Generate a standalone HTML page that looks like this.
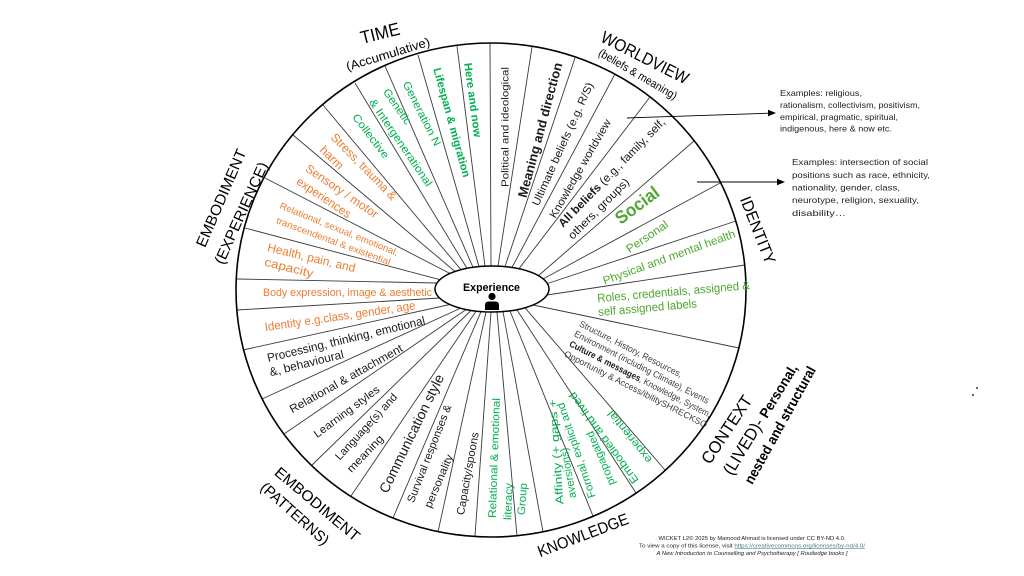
<!DOCTYPE html>
<html>
<head>
<meta charset="utf-8">
<style>
html,body{margin:0;padding:0;background:#fff;}
body{width:1024px;height:576px;overflow:hidden;}
svg{display:block;font-family:"Liberation Sans",sans-serif;}
</style>
</head>
<body>
<svg width="1024" height="576" viewBox="0 0 1024 576" xmlns="http://www.w3.org/2000/svg">
<rect width="1024" height="576" fill="#fff"/>

<!-- spokes -->
<g stroke="#3a3a3a" stroke-width="0.9" fill="none">
<line x1="491" y1="266" x2="490" y2="43"/>
<line x1="498" y1="266.1" x2="532" y2="47"/>
<line x1="505" y1="266.6" x2="575" y2="58"/>
<line x1="512" y1="267.4" x2="615" y2="74"/>
<line x1="519" y1="268.7" x2="650" y2="97"/>
<line x1="538" y1="276" x2="694" y2="141"/>
<line x1="543" y1="279" x2="720" y2="183"/>
<line x1="546" y1="284" x2="736" y2="221"/>
<line x1="547" y1="295" x2="745" y2="265"/>
<line x1="533" y1="305" x2="739" y2="348"/>
<line x1="525" y1="307.8" x2="665" y2="470"/>
<line x1="517" y1="309.9" x2="636" y2="493"/>
<line x1="510" y1="311" x2="593" y2="516"/>
<line x1="503" y1="311.6" x2="543" y2="532"/>
<line x1="497" y1="311.9" x2="517" y2="536"/>
<line x1="491" y1="312" x2="475" y2="536"/>
<line x1="486" y1="311.9" x2="438" y2="532"/>
<line x1="481" y1="311.6" x2="393" y2="518"/>
<line x1="476" y1="311.2" x2="351" y2="496"/>
<line x1="471" y1="310.5" x2="312" y2="465"/>
<line x1="466" y1="309.6" x2="284" y2="434"/>
<line x1="461" y1="308" x2="262" y2="399"/>
<line x1="450" y1="304.5" x2="243" y2="350"/>
<line x1="440" y1="298" x2="237" y2="310"/>
<line x1="437" y1="283" x2="237" y2="279"/>
<line x1="440" y1="279.7" x2="245" y2="228"/>
<line x1="450" y1="273.5" x2="265" y2="178"/>
<line x1="455" y1="271.5" x2="293" y2="135"/>
<line x1="461" y1="269.7" x2="323" y2="105"/>
<line x1="467" y1="268.4" x2="355" y2="83"/>
<line x1="473" y1="267.3" x2="385" y2="66"/>
<line x1="479" y1="266.6" x2="418" y2="55"/>
<line x1="485" y1="266.2" x2="457" y2="46"/>
</g>

<!-- outer ring -->
<ellipse cx="491" cy="290" rx="255" ry="247" fill="none" stroke="#000" stroke-width="1.6"/>

<!-- center -->
<ellipse cx="492" cy="289" rx="57" ry="23" fill="#fff" stroke="#000" stroke-width="1.5"/>
<text transform="translate(491.5,287)" text-anchor="middle" dy=".35em" font-size="11" font-weight="bold" textLength="57" lengthAdjust="spacingAndGlyphs" fill="#000">Experience</text>
<circle cx="492" cy="296.5" r="3.6" fill="#000"/>
<path d="M485,310 L485,305 Q485,301.5 489,301.5 L495,301.5 Q499,301.5 499,305 L499,310 Z" fill="#000"/>

<!-- arrows -->
<g stroke="#000" stroke-width="0.9">
<line x1="627" y1="118" x2="769" y2="113.2"/>
<line x1="697" y1="182" x2="778" y2="182"/>
</g>
<polygon points="776,113 768,109.8 768,116.4" fill="#000"/>
<polygon points="785,182 777,178.8 777,185.2" fill="#000"/>

<g text-anchor="middle" lengthAdjust="spacingAndGlyphs">

<!-- TIME sector -->
<g fill="#00b050" font-size="11">
<text transform="translate(473,100) rotate(82.3)" dy=".35em" font-weight="bold" textLength="75" lengthAdjust="spacingAndGlyphs">Here and now</text>
<text transform="translate(452,122.5) rotate(74.6)" dy=".35em" font-weight="bold" textLength="113" lengthAdjust="spacingAndGlyphs">Lifespan &amp; migration</text>
<text transform="translate(422,113.5) rotate(63)" dy=".35em" textLength="71" lengthAdjust="spacingAndGlyphs">Generation N</text>
<text transform="translate(397.5,106.5) rotate(55)" dy=".35em" textLength="41" lengthAdjust="spacingAndGlyphs">Genetic</text>
<text transform="translate(401,142.5) rotate(55.7)" dy=".35em" textLength="103" lengthAdjust="spacingAndGlyphs">&amp; Intergenerational</text>
<text transform="translate(371,136) rotate(52.7)" dy=".35em" textLength="53" lengthAdjust="spacingAndGlyphs">Collective</text>
</g>

<!-- EMBODIMENT (EXPERIENCE) sector -->
<g fill="#ed7d31" font-size="12">
<text transform="translate(364,166.5) rotate(45.5)" dy=".35em" textLength="88" lengthAdjust="spacingAndGlyphs">Stress, trauma &amp;</text>
<text transform="translate(332,157.5) rotate(45)" dy=".35em" textLength="28" lengthAdjust="spacingAndGlyphs">harm</text>
<text transform="translate(342,191) rotate(34.4)" dy=".35em" textLength="85" lengthAdjust="spacingAndGlyphs">Sensory / motor</text>
<text transform="translate(324,197.5) rotate(34)" dy=".35em" textLength="63" lengthAdjust="spacingAndGlyphs">experiences</text>
<text transform="translate(339,229) rotate(22.1)" dy=".35em" font-size="9.3" textLength="127" lengthAdjust="spacingAndGlyphs">Relational, sexual, emotional,</text>
<text transform="translate(333.5,241) rotate(20.4)" dy=".35em" font-size="9.3" textLength="121" lengthAdjust="spacingAndGlyphs">transcendental &amp; existential</text>
<text transform="translate(311.5,257.5) rotate(13.6)" dy=".35em" textLength="90" lengthAdjust="spacingAndGlyphs">Health, pain, and</text>
<text transform="translate(289,267.5) rotate(14)" dy=".35em" textLength="50" lengthAdjust="spacingAndGlyphs">capacity</text>
<text transform="translate(347.5,292) rotate(0)" dy=".35em" font-size="11" textLength="169" lengthAdjust="spacingAndGlyphs">Body expression, image &amp; aesthetic</text>
<text transform="translate(340,316) rotate(-8.3)" dy=".35em" textLength="152" lengthAdjust="spacingAndGlyphs">Identity e.g.class, gender, age</text>
</g>

<!-- EMBODIMENT (PATTERNS) sector -->
<g fill="#1a1a1a" font-size="11">
<text transform="translate(346,339) rotate(-13.5)" dy=".35em" font-size="12" textLength="162" lengthAdjust="spacingAndGlyphs">Processing, thinking, emotional</text>
<text transform="translate(306.5,363) rotate(-14)" dy=".35em" font-size="12" textLength="76" lengthAdjust="spacingAndGlyphs">&amp;, behavioural</text>
<text transform="translate(346,378.5) rotate(-29.4)" dy=".35em" font-size="11.5" textLength="128" lengthAdjust="spacingAndGlyphs">Relational &amp; attachment</text>
<text transform="translate(346.5,411.5) rotate(-36.7)" dy=".35em" textLength="79" lengthAdjust="spacingAndGlyphs">Learning styles</text>
<text transform="translate(366,426.5) rotate(-47.4)" dy=".35em" textLength="86" lengthAdjust="spacingAndGlyphs">Language(s) and</text>
<text transform="translate(365,453.5) rotate(-46)" dy=".35em" textLength="47" lengthAdjust="spacingAndGlyphs">meaning</text>
<text transform="translate(411.5,433.5) rotate(-64)" dy=".35em" font-size="14" textLength="130" lengthAdjust="spacingAndGlyphs">Communication style</text>
<text transform="translate(429,453.5) rotate(-68.6)" dy=".35em" textLength="104" lengthAdjust="spacingAndGlyphs">Survival responses &amp;</text>
<text transform="translate(438.5,481) rotate(-67)" dy=".35em" textLength="57" lengthAdjust="spacingAndGlyphs">personality</text>
<text transform="translate(467.5,473.5) rotate(-79.8)" dy=".35em" textLength="84" lengthAdjust="spacingAndGlyphs">Capacity/spoons</text>
</g>

<!-- KNOWLEDGE sector -->
<g fill="#00b050" font-size="11">
<text transform="translate(494,458) rotate(-88)" dy=".35em" textLength="120" lengthAdjust="spacingAndGlyphs">Relational &amp;  emotional</text>
<text transform="translate(508,501.5) rotate(-88)" dy=".35em" textLength="37" lengthAdjust="spacingAndGlyphs">literacy</text>
<text transform="translate(522,499) rotate(-86)" dy=".35em" textLength="32" lengthAdjust="spacingAndGlyphs">Group</text>
<text transform="translate(556,452) rotate(-94)" dy=".35em" textLength="105" lengthAdjust="spacingAndGlyphs">Affinity (+ gaps +</text>
<text transform="translate(568,473) rotate(-100)" dy=".35em" textLength="51" lengthAdjust="spacingAndGlyphs">aversions)</text>
<text transform="translate(576,450.5) rotate(-108.6)" dy=".35em" textLength="100" lengthAdjust="spacingAndGlyphs">Formal, explicit and</text>
<text transform="translate(600.5,458.5) rotate(-113)" dy=".35em" textLength="58" lengthAdjust="spacingAndGlyphs">propagated</text>
<text transform="translate(603.5,438) rotate(-126)" dy=".35em" textLength="110" lengthAdjust="spacingAndGlyphs">Embodied and lived</text>
<text transform="translate(629.5,437) rotate(-128.7)" dy=".35em" textLength="64" lengthAdjust="spacingAndGlyphs">experiential</text>
</g>

<!-- CONTEXT sector -->
<g fill="#404040" font-size="9">
<text transform="translate(630.8,348.9) rotate(27)" dy=".35em" textLength="114" lengthAdjust="spacingAndGlyphs">Structure, History, Resources,</text>
<text transform="translate(641.8,367) rotate(27)" dy=".35em" textLength="150" lengthAdjust="spacingAndGlyphs">Environment (including Climate), Events</text>
<text transform="translate(640.4,378.9) rotate(27)" dy=".35em" textLength="158" lengthAdjust="spacingAndGlyphs"><tspan font-weight="bold" fill="#1a1a1a">Culture &amp; messages</tspan>, Knowledge, System,</text>
<text transform="translate(635.8,389.1) rotate(27)" dy=".35em" textLength="159" lengthAdjust="spacingAndGlyphs">Opportunity &amp; Access/ibilitySHRECKSO</text>
</g>

<!-- IDENTITY sector -->
<g fill="#4ea72e" font-size="11.5">
<text transform="translate(637,205) rotate(-36.9)" dy=".35em" font-size="18" font-weight="bold" textLength="50" lengthAdjust="spacingAndGlyphs">Social</text>
<text transform="translate(647,236.5) rotate(-34)" dy=".35em" textLength="48" lengthAdjust="spacingAndGlyphs">Personal</text>
<text transform="translate(669,257) rotate(-20)" dy=".35em" textLength="140" lengthAdjust="spacingAndGlyphs">Physical and mental health</text>
<text transform="translate(673.5,291.5) rotate(-4.9)" dy=".35em" font-size="12" textLength="153" lengthAdjust="spacingAndGlyphs">Roles, credentials, assigned &amp;</text>
<text transform="translate(647.5,307.5) rotate(-5)" dy=".35em" font-size="12" textLength="99" lengthAdjust="spacingAndGlyphs">self assigned labels</text>
</g>

<!-- WORLDVIEW sector -->
<g fill="#1a1a1a" font-size="11">
<text transform="translate(505,127) rotate(-90)" dy=".35em" font-size="10.5" textLength="120" lengthAdjust="spacingAndGlyphs">Political and ideological</text>
<text transform="translate(540,130) rotate(-75)" dy=".35em" font-size="13" font-weight="bold" textLength="139" lengthAdjust="spacingAndGlyphs">Meaning and direction</text>
<text transform="translate(562.5,144) rotate(-65.7)" dy=".35em" textLength="134" lengthAdjust="spacingAndGlyphs">Ultimate beliefs (e.g. R/S)</text>
<text transform="translate(580,168.5) rotate(-60)" dy=".35em" textLength="112" lengthAdjust="spacingAndGlyphs">Knowledge worldview</text>
<text transform="translate(611.5,172.5) rotate(-45.6)" dy=".35em" font-size="11.5" textLength="147" lengthAdjust="spacingAndGlyphs"><tspan font-weight="bold">All beliefs</tspan>  (e.g., family, self,</text>
<text transform="translate(598.5,208.5) rotate(-45)" dy=".35em" font-size="11.5" textLength="81" lengthAdjust="spacingAndGlyphs">others, groups)</text>
</g>

<!-- category labels -->
<g fill="#000">
<text transform="translate(380,33) rotate(-14)" dy=".35em" font-size="18" textLength="40" lengthAdjust="spacingAndGlyphs">TIME</text>
<text transform="translate(388,54) rotate(-17)" dy=".35em" font-size="12.5" textLength="87" lengthAdjust="spacingAndGlyphs">(Accumulative)</text>
<text transform="translate(645,57.5) rotate(27)" dy=".35em" font-size="17" textLength="96" lengthAdjust="spacingAndGlyphs">WORLDVIEW</text>
<text transform="translate(638,74) rotate(30.4)" dy=".35em" font-size="11.5" textLength="89" lengthAdjust="spacingAndGlyphs">(beliefs &amp; meaning)</text>
<text transform="translate(758,230) rotate(68.5)" dy=".35em" font-size="16" textLength="71" lengthAdjust="spacingAndGlyphs">IDENTITY</text>
<text transform="translate(726.5,429.5) rotate(-56.5)" dy=".35em" font-size="17" textLength="78" lengthAdjust="spacingAndGlyphs">CONTEXT</text>
<text transform="translate(760,419) rotate(-58.6)" dy=".35em" font-size="17" textLength="127" lengthAdjust="spacingAndGlyphs">(LIVED)- <tspan font-size="14" font-weight="bold">Personal,</tspan></text>
<text transform="translate(780,425) rotate(-61)" dy=".35em" font-size="14" font-weight="bold" textLength="132" lengthAdjust="spacingAndGlyphs">nested and structural</text>
<text transform="translate(583,535) rotate(-20.7)" dy=".35em" font-size="16" textLength="96" lengthAdjust="spacingAndGlyphs">KNOWLEDGE</text>
<text transform="translate(317.5,504) rotate(40)" dy=".35em" font-size="15" textLength="106" lengthAdjust="spacingAndGlyphs">EMBODIMENT</text>
<text transform="translate(295,513.5) rotate(41.7)" dy=".35em" font-size="15" textLength="86" lengthAdjust="spacingAndGlyphs">(PATTERNS)</text>
<text transform="translate(221,198) rotate(-66.7)" dy=".35em" font-size="15" textLength="105" lengthAdjust="spacingAndGlyphs">EMBODIMENT</text>
<text transform="translate(241,213) rotate(-65.8)" dy=".35em" font-size="15" textLength="110" lengthAdjust="spacingAndGlyphs">(EXPERIENCE)</text>
</g>

<!-- footer -->
<g fill="#222" font-size="5.5">
<text x="752" y="538" dy=".35em" textLength="187" lengthAdjust="spacingAndGlyphs">WICKET L2© 2025 by Mamood Ahmad is licensed under CC BY-ND 4.0.</text>
<text x="752" y="545.5" dy=".35em" textLength="226" lengthAdjust="spacingAndGlyphs">To view a copy of this license, visit <tspan fill="#467886" text-decoration="underline">https://creativecommons.org/licenses/by-nd/4.0/</tspan></text>
<text x="752" y="553" dy=".35em" font-style="italic" textLength="191" lengthAdjust="spacingAndGlyphs">A New Introduction to Counselling and Psychotherapy [ Routledge books ]</text>
</g>
</g>

<!-- examples annotations -->
<g fill="#222" font-size="8.5" text-anchor="start">
<text x="780" y="93" dy=".35em" textLength="82" lengthAdjust="spacingAndGlyphs">Examples: religious,</text>
<text x="780" y="105" dy=".35em" textLength="140" lengthAdjust="spacingAndGlyphs">rationalism, collectivism, positivism,</text>
<text x="780" y="117" dy=".35em" textLength="118" lengthAdjust="spacingAndGlyphs">empirical, pragmatic, spiritual,</text>
<text x="780" y="128.5" dy=".35em" textLength="112" lengthAdjust="spacingAndGlyphs">indigenous,  here &amp; now etc.</text>
<text x="792" y="162" dy=".35em" textLength="136" lengthAdjust="spacingAndGlyphs">Examples: intersection of social</text>
<text x="792" y="175" dy=".35em" textLength="138" lengthAdjust="spacingAndGlyphs">positions such as race, ethnicity,</text>
<text x="792" y="187.5" dy=".35em" textLength="108" lengthAdjust="spacingAndGlyphs">nationality, gender, class,</text>
<text x="792" y="200" dy=".35em" textLength="127" lengthAdjust="spacingAndGlyphs">neurotype, religion, sexuality,</text>
<text x="792" y="213" dy=".35em" textLength="54" lengthAdjust="spacingAndGlyphs">disability…</text>
</g>

<!-- stray dots -->
<circle cx="973" cy="395" r="0.9" fill="#000"/>
<circle cx="977" cy="388" r="0.9" fill="#000"/>
</svg>
</body>
</html>
